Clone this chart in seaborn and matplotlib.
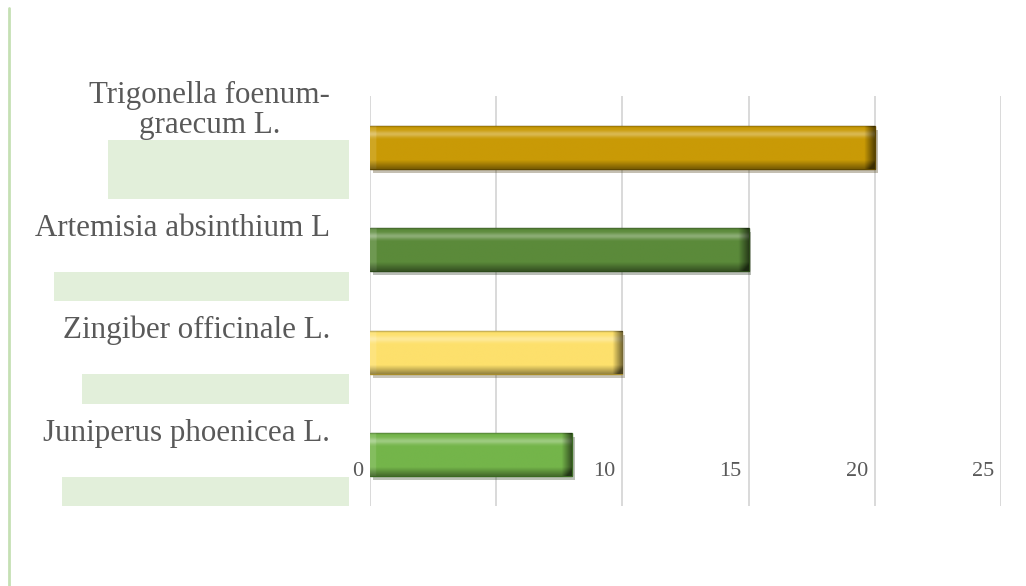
import matplotlib
matplotlib.use('Agg')
import matplotlib.pyplot as plt
import matplotlib.patheffects as pe
import matplotlib.colors as mcolors
import seaborn as sns
import pandas as pd
import numpy as np

# 데이터
plants = ['Trigonella foenum-\ngraecum L.', 'Artemisia absinthium L',
          'Zingiber officinale L.', 'Juniperus phoenicea L.']
values = [20, 15, 10, 8]
ticks = [0, 5, 10, 15, 20, 25]
bar_colors = ['#c99a06', '#5b8a3a', '#fde06c', '#74b54a']
edge_colors = ['#5e4700', '#2c4a1a', '#a88d2c', '#3b6a22']

df = pd.DataFrame({'plant': plants, 'value': values})

sns.set_style('white')
plt.rcParams['font.family'] = ['Liberation Serif', 'DejaVu Serif']

fig = plt.figure(figsize=(10.26, 5.86), dpi=100)
ax = fig.add_axes([370 / 1026, 1 - 506 / 586, 631 / 1026, 410 / 586])

sns.barplot(data=df, x='value', y='plant', hue='plant', palette=bar_colors,
            saturation=1, orient='h', width=0.42, legend=False, ax=ax, zorder=3)


def bevel_image(color, n_w):
    # 입체 느낌의 그라데이션
    base = np.array(mcolors.to_rgb(color))
    h, w = 60, 400
    yy = np.linspace(0, 1, h)[:, None]
    xx = np.linspace(0, 1, w)[None, :]
    img = np.ones((h, w, 3)) * base
    light = np.zeros((h, w))
    dark = np.zeros((h, w))
    light += np.where((yy > 0.06) & (yy < 0.32), 0.3 * np.exp(-((yy - 0.2) / 0.07) ** 2), 0)
    dark += np.where(yy > 0.8, (yy - 0.8) / 0.2 * 0.4, 0)
    dark += np.where(yy < 0.05, 0.2, 0)
    end = 0.02 * n_w
    dark += np.where(xx > 1 - end, ((xx - (1 - end)) / end) * 0.55, 0)
    light += np.where(xx < end * 0.6, 0.12, 0)
    img = img + (1 - img) * light[..., None]
    img = img * (1 - np.clip(dark, 0, 0.7))[..., None]
    return np.clip(img, 0, 1)


for patch, c, ec, v in zip(ax.patches, bar_colors, edge_colors, values):
    patch.set_edgecolor(ec)
    patch.set_linewidth(1.0)
    patch.set_path_effects([pe.SimplePatchShadow(offset=(2, -3), alpha=0.3),
                            pe.Normal()])
    x0, y0 = patch.get_x(), patch.get_y()
    w, h = patch.get_width(), patch.get_height()
    im = ax.imshow(bevel_image(c, 20 / v), extent=[x0, x0 + w, y0 + h, y0],
                   aspect='auto', interpolation='bilinear', zorder=4)
    im.set_clip_path(patch)

ax.set_xlim(0, 25)
ax.set_ylim(len(plants) - 0.5, -0.5)
ax.set_xticks(ticks)
ax.set_xticklabels([])
ax.set_yticks(range(len(plants)))
ax.set_yticklabels([])
ax.tick_params(length=0)
ax.grid(axis='x', color='#d9d9d9', linewidth=1.4, zorder=0)
ax.set_axisbelow(True)
for s in ax.spines.values():
    s.set_visible(False)
ax.set_xlabel('')
ax.set_ylabel('')

# 눈금 라벨 (그래프 안쪽)
for t in ticks:
    ax.annotate(str(t), xy=(t, 0.084), xycoords=('data', 'axes fraction'),
                xytext=(-5, 0), textcoords='offset points', ha='right', va='center',
                fontsize=16, color='#595959', zorder=1, annotation_clip=False)

# 범주 라벨과 연녹색 상자
for i, name in enumerate(plants):
    ax.annotate(name, xy=(-40 / 631, i), xycoords=('axes fraction', 'data'),
                xytext=(0, 5), textcoords='offset points', ha='right', va='bottom',
                multialignment='center', linespacing=1.05,
                fontsize=22.3, color='#595959', annotation_clip=False)
    ax.annotate(name, xy=(-21 / 631, i + 0.5), xycoords=('axes fraction', 'data'),
                ha='right', va='bottom', multialignment='center', linespacing=1.0,
                fontsize=22.3, color=(0, 0, 0, 0), annotation_clip=False,
                bbox=dict(boxstyle='square,pad=0', facecolor='#e2efda', edgecolor='none'))

# 왼쪽 테두리 선
fig.add_artist(plt.Line2D([9 / 1026, 9 / 1026], [0, 1 - 8 / 586],
                          color='#c5e0b4', linewidth=2, transform=fig.transFigure))

fig.savefig('out.png', dpi=100, facecolor='white')
